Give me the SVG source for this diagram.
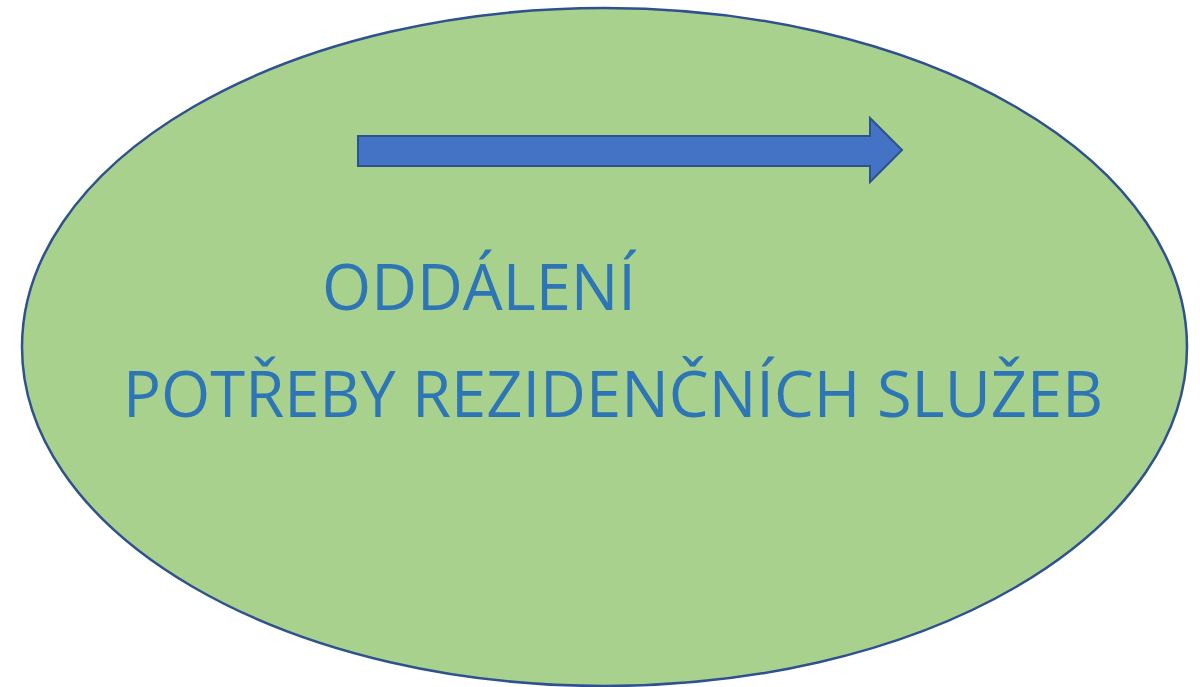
<svg xmlns="http://www.w3.org/2000/svg" width="1200" height="687" viewBox="0 0 1200 687">
<style>
.t{font-family:"Open Sans","Liberation Sans",sans-serif;font-size:64px;fill:#2E75B6}
</style>
<rect width="1200" height="687" fill="#FFFFFF"/>
<g id="ellipse">
<ellipse cx="604.5" cy="347" rx="582.5" ry="339" fill="#A9D18E" stroke="#2F528F" stroke-width="2.5"/>
</g>
<g id="arrow">
<polygon points="358,136 870,136 870,118 902,150 870,182 870,166 358,166" fill="#4472C4" stroke="#2F528F" stroke-width="2"/>
</g>
<g id="text">
<text class="t" x="322" y="310" textLength="314" lengthAdjust="spacingAndGlyphs">ODDÁLENÍ</text>
<text class="t" x="123" y="417" textLength="980" lengthAdjust="spacingAndGlyphs">POTŘEBY REZIDENČNÍCH SLUŽEB</text>
</g>
</svg>
